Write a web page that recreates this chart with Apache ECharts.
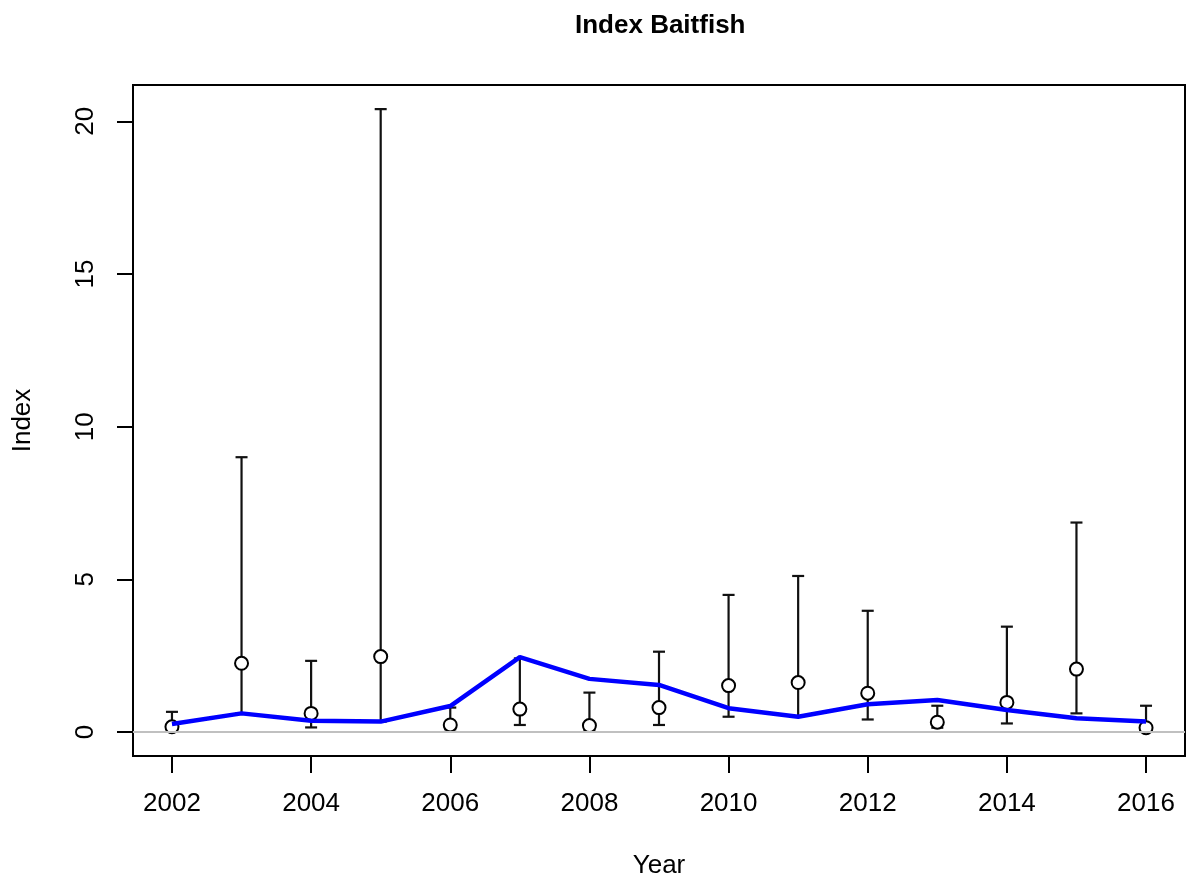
<!DOCTYPE html>
<html>
<head>
<meta charset="utf-8">
<script src="https://cdn.jsdelivr.net/npm/echarts@6/dist/echarts.min.js"></script>
<style>
html,body{margin:0;padding:0;background:#fff;}
#chart{width:1188px;height:884px;}
</style>
</head>
<body>
<div id="chart"></div>
<script>
// ---- data ----
const years = [2002, 2003, 2004, 2005, 2006, 2007, 2008, 2009, 2010, 2011, 2012, 2013, 2014, 2015, 2016];
const indexValues = [0.17, 2.25, 0.61, 2.47, 0.23, 0.75, 0.21, 0.80, 1.52, 1.62, 1.27, 0.32, 0.97, 2.06, 0.14];
const lowerCI = [0.05, 0.62, 0.15, 0.34, 0.09, 0.23, 0.07, 0.23, 0.50, 0.50, 0.41, 0.14, 0.28, 0.61, 0.03];
const upperCI = [0.66, 9.00, 2.33, 20.40, 0.80, 2.41, 1.29, 2.63, 4.49, 5.11, 3.97, 0.86, 3.45, 6.86, 0.86];
const fittedValues = [0.26, 0.61, 0.37, 0.34, 0.85, 2.45, 1.74, 1.54, 0.78, 0.50, 0.91, 1.05, 0.72, 0.45, 0.34];
const xTickLabels = [2002, 2004, 2006, 2008, 2010, 2012, 2014, 2016];
const yTickLabels = [0, 5, 10, 15, 20];

const FONT = '"Liberation Sans", Arial, sans-serif';

const chart = echarts.init(document.getElementById('chart'), null, {renderer: 'canvas'});

const errData = years.map((y, i) => [y, lowerCI[i], upperCI[i]]);
const pointData = years.map((y, i) => [y, indexValues[i]]);
const fitData = years.map((y, i) => [y, fittedValues[i]]);

const option = {
  animation: false,
  backgroundColor: '#ffffff',
  title: {
    text: 'Index Baitfish',
    left: 570,
    top: 8,
    textStyle: {fontFamily: FONT, fontSize: 26, fontWeight: 'bold', color: '#000'}
  },
  grid: {
    left: 133, right: 3, top: 85, bottom: 128,
    show: true, borderColor: '#000', borderWidth: 2, backgroundColor: 'transparent'
  },
  xAxis: {
    type: 'value',
    min: 2001.44, max: 2016.56,
    name: 'Year',
    nameLocation: 'middle',
    nameGap: 97,
    nameTextStyle: {fontFamily: FONT, fontSize: 26, color: '#000'},
    axisLine: {show: true, onZero: false, lineStyle: {color: '#000', width: 2}},
    axisTick: {show: true, customValues: xTickLabels, length: 17, lineStyle: {color: '#000', width: 2}},
    axisLabel: {show: true, customValues: xTickLabels, margin: 35, fontFamily: FONT, fontSize: 26, color: '#000',
      formatter: function (v) { return String(Math.round(v)); }},
    splitLine: {show: false}
  },
  yAxis: {
    type: 'value',
    min: -0.786, max: 21.19,
    name: 'Index',
    nameLocation: 'middle',
    nameGap: 97,
    nameRotate: 90,
    nameTextStyle: {fontFamily: FONT, fontSize: 26, color: '#000'},
    axisLine: {show: true, onZero: false, lineStyle: {color: '#000', width: 2}},
    axisTick: {show: true, customValues: yTickLabels, length: 16, lineStyle: {color: '#000', width: 2}},
    axisLabel: {show: true, customValues: yTickLabels, rotate: 90, margin: 34, fontFamily: FONT, fontSize: 26, color: '#000',
      formatter: function (v) { return String(Math.round(v)); }},
    splitLine: {show: false}
  },
  series: [
    {
      type: 'custom',
      name: 'CI',
      z: 2,
      encode: {x: 0, y: [1, 2]},
      data: errData,
      markLine: {
        silent: true,
        symbol: 'none',
        label: {show: false},
        lineStyle: {color: '#c0c0c0', width: 2, type: 'solid'},
        data: [{yAxis: 0}]
      },
      renderItem: function (params, api) {
        const x = api.value(0);
        const lo = api.coord([x, api.value(1)]);
        const hi = api.coord([x, api.value(2)]);
        const hw = 6;
        const style = {stroke: '#111', lineWidth: 2.2, fill: null};
        return {
          type: 'group',
          children: [
            {type: 'line', shape: {x1: lo[0], y1: lo[1], x2: hi[0], y2: hi[1]}, style: style},
            {type: 'line', shape: {x1: hi[0] - hw, y1: hi[1], x2: hi[0] + hw, y2: hi[1]}, style: style},
            {type: 'line', shape: {x1: lo[0] - hw, y1: lo[1], x2: lo[0] + hw, y2: lo[1]}, style: style}
          ]
        };
      }
    },
    {
      type: 'scatter',
      name: 'Index',
      z: 3,
      data: pointData,
      symbol: 'circle',
      symbolSize: 13,
      itemStyle: {color: '#ffffff', borderColor: '#000', borderWidth: 2, opacity: 1}
    },
    {
      type: 'line',
      name: 'Fitted',
      z: 4,
      data: fitData,
      showSymbol: false,
      symbol: 'none',
      lineStyle: {color: '#0000ff', width: 4.5}
    }
  ]
};

chart.setOption(option);
</script>
</body>
</html>
